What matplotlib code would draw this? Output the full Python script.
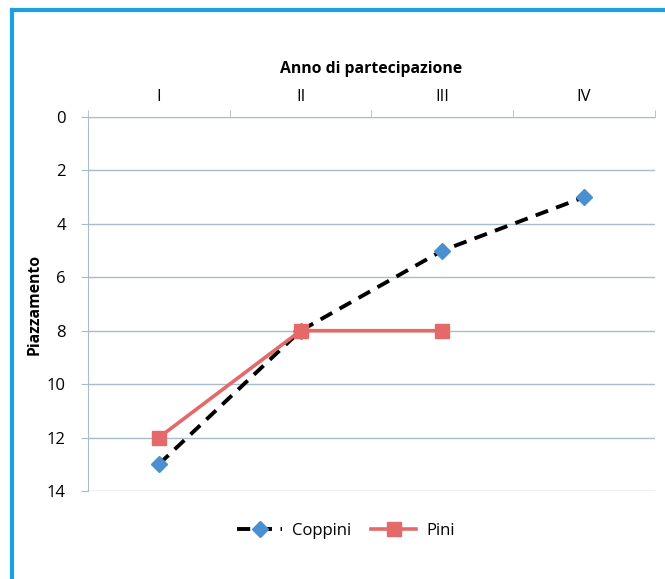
import numpy as np
import matplotlib.pyplot as plt
from matplotlib.lines import Line2D

plt.rcParams['font.family'] = ['Open Sans', 'DejaVu Sans']

anni = ['I', 'II', 'III', 'IV']
coppini = [13, 8, 5, 3]
pini = [12, 8, 8, np.nan]

fig = plt.figure(figsize=(6.65, 5.79), dpi=100)
ax = fig.add_axes([0.1323, 0.152, 0.8526, 0.6459])

x = np.arange(len(anni))
ax.plot(x, coppini, color='black', lw=2.8, ls=(0, (3.4, 2.2)),
        marker='D', ms=8, mfc='#4a90d0', mec='#4a90d0', label='Coppini', zorder=3)
ax.plot(x, pini, color='#e46a6a', lw=2.6,
        marker='s', ms=10, mfc='#e46a6a', mec='#e46a6a', label='Pini', zorder=3)

ax.set_ylim(14, 0)
ax.set_xlim(-0.5, len(anni) - 0.5)
ax.set_yticks(range(0, 15, 2))
ax.grid(axis='y', color='#a9bccb', lw=1)
ax.set_axisbelow(True)

# categories on top, tick marks between categories
ax.xaxis.tick_top()
ax.xaxis.set_label_position('top')
ax.set_xticks(x)
ax.set_xticklabels(anni)
ax.set_xticks(np.arange(-0.5, len(anni)), minor=True)
ax.tick_params(axis='x', which='major', length=0, pad=9, labelsize=12)
ax.tick_params(axis='x', which='minor', length=5, color='#a9bccb', direction='out')
ax.tick_params(axis='y', length=5, color='#a9bccb', labelsize=12, pad=11)

for side in ['right', 'bottom']:
    ax.spines[side].set_visible(False)
ax.spines['top'].set_color('#a9bccb')
ax.spines['left'].set_color('#a9bccb')

ax.set_xlabel('Anno di partecipazione', fontsize=11.3, fontweight='bold', labelpad=11)
ax.set_ylabel('Piazzamento', fontsize=11.3, fontweight='bold', labelpad=3)

ax.legend(loc='upper center', bbox_to_anchor=(0.455, -0.045), ncol=2, frameon=False,
          fontsize=12, handlelength=2.7, handletextpad=0.6, columnspacing=1.2)

# blue frame on the left and top
fig.add_artist(Line2D([0.0185, 0.0185], [0, 0.982], color='#1ba1e2', lw=3))
fig.add_artist(Line2D([0.0185, 1.0], [0.982, 0.982], color='#1ba1e2', lw=3))

fig.savefig('out.png', dpi=100)
